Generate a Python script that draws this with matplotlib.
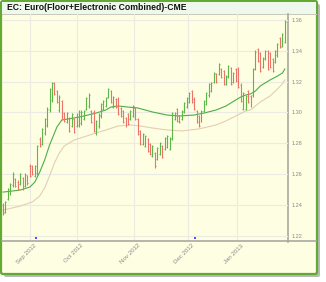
import matplotlib
matplotlib.use("Agg")
import matplotlib.pyplot as plt
import matplotlib.transforms as mtransforms
from matplotlib.patches import FancyBboxPatch, Rectangle
import numpy as np

plt.rcParams['font.family'] = ['Liberation Sans', 'DejaVu Sans']

title = "EC: Euro(Floor+Electronic Combined)-CME"

# daily bars, one per trading day, mid Aug 2012 .. end of Jan 2013
opens = [1.2400, 1.2352, 1.2440, 1.2490, 1.2530, 1.2570, 1.2550, 1.2535, 1.2575, 1.2525,
         1.2590, 1.2655, 1.2650, 1.2590, 1.2610, 1.2830, 1.2795, 1.2865, 1.2920, 1.3015,
         1.3080, 1.3190, 1.3140, 1.3015, 1.3075, 1.2995, 1.2940, 1.2965, 1.2915, 1.2955,
         1.2915, 1.2920, 1.2930, 1.2960, 1.3020, 1.3040, 1.3010, 1.3005, 1.2865, 1.2910,
         1.2975, 1.3025, 1.3040, 1.3100, 1.3140, 1.3035, 1.3090, 1.3090, 1.3030, 1.3010,
         1.2965, 1.2990, 1.2955, 1.2975, 1.3030, 1.2955, 1.2880, 1.2795, 1.2785, 1.2830,
         1.2795, 1.2720, 1.2735, 1.2700, 1.2730, 1.2780, 1.2765, 1.2775, 1.2765, 1.2830,
         1.2960, 1.3020, 1.2975, 1.2955, 1.3005, 1.3035, 1.3070, 1.3140, 1.3090, 1.3010,
         1.2975, 1.2945, 1.3010, 1.3055, 1.3110, 1.3140, 1.3195, 1.3250, 1.3250, 1.3280,
         1.3270, 1.3185, 1.3230, 1.3290, 1.3195, 1.3280, 1.3285, 1.3180, 1.3025, 1.3025,
         1.3140, 1.3105, 1.3110, 1.3285, 1.3410, 1.3385, 1.3295, 1.3345, 1.3400, 1.3385,
         1.3345, 1.3330, 1.3370, 1.3480, 1.3430, 1.3460]
highs = [1.2412, 1.2425, 1.2510, 1.2542, 1.2613, 1.2575, 1.2562, 1.2607, 1.2581, 1.2607,
         1.2594, 1.2665, 1.2659, 1.2659, 1.2789, 1.2841, 1.2899, 1.2964, 1.3035, 1.3159,
         1.3198, 1.3198, 1.3146, 1.3113, 1.3081, 1.3003, 1.3003, 1.2970, 1.2996, 1.2964,
         1.2996, 1.3016, 1.3016, 1.3016, 1.3100, 1.3126, 1.3016, 1.3016, 1.2951, 1.2996,
         1.3061, 1.3081, 1.3100, 1.3159, 1.3146, 1.3107, 1.3094, 1.3100, 1.3035, 1.3016,
         1.2970, 1.2996, 1.3016, 1.3048, 1.3035, 1.2964, 1.2886, 1.2867, 1.2854, 1.2834,
         1.2802, 1.2789, 1.2743, 1.2776, 1.2808, 1.2789, 1.2841, 1.2854, 1.2841, 1.3003,
         1.3003, 1.3029, 1.2983, 1.3016, 1.3068, 1.3100, 1.3133, 1.3146, 1.3100, 1.3016,
         1.2983, 1.3016, 1.3081, 1.3133, 1.3191, 1.3198, 1.3263, 1.3256, 1.3321, 1.3288,
         1.3275, 1.3243, 1.3308, 1.3295, 1.3263, 1.3288, 1.3295, 1.3191, 1.3133, 1.3113,
         1.3146, 1.3113, 1.3288, 1.3405, 1.3418, 1.3392, 1.3360, 1.3405, 1.3405, 1.3392,
         1.3353, 1.3405, 1.3451, 1.3490, 1.3516, 1.3600]
lows = [1.2334, 1.2347, 1.2432, 1.2464, 1.2516, 1.2516, 1.2497, 1.2529, 1.2497, 1.2516,
        1.2529, 1.2581, 1.2594, 1.2581, 1.2594, 1.2776, 1.2789, 1.2854, 1.2906, 1.3003,
        1.3068, 1.3113, 1.3061, 1.3003, 1.2951, 1.2938, 1.2932, 1.2873, 1.2906, 1.2867,
        1.2906, 1.2906, 1.2919, 1.2951, 1.3016, 1.3029, 1.2932, 1.2873, 1.2854, 1.2899,
        1.2964, 1.3016, 1.3035, 1.3094, 1.3061, 1.3029, 1.3029, 1.2983, 1.2970, 1.2932,
        1.2906, 1.2919, 1.2951, 1.2970, 1.2951, 1.2854, 1.2789, 1.2789, 1.2776, 1.2743,
        1.2724, 1.2711, 1.2640, 1.2691, 1.2724, 1.2704, 1.2756, 1.2769, 1.2756, 1.2821,
        1.2951, 1.2938, 1.2932, 1.2951, 1.2996, 1.3029, 1.3061, 1.3061, 1.3016, 1.2932,
        1.2906, 1.2938, 1.3003, 1.3048, 1.3100, 1.3133, 1.3191, 1.3191, 1.3243, 1.3224,
        1.3178, 1.3178, 1.3224, 1.3178, 1.3191, 1.3198, 1.3159, 1.3068, 1.3016, 1.3016,
        1.3061, 1.3035, 1.3100, 1.3275, 1.3327, 1.3263, 1.3288, 1.3340, 1.3275, 1.3288,
        1.3263, 1.3321, 1.3360, 1.3418, 1.3425, 1.3451]
closes = [1.2345, 1.2418, 1.2500, 1.2535, 1.2600, 1.2525, 1.2505, 1.2598, 1.2510, 1.2595,
          1.2540, 1.2590, 1.2600, 1.2650, 1.2780, 1.2785, 1.2890, 1.2955, 1.3025, 1.3150,
          1.3190, 1.3120, 1.3070, 1.3100, 1.2960, 1.2945, 1.2995, 1.2880, 1.2990, 1.2875,
          1.2985, 1.3005, 1.3005, 1.3010, 1.3095, 1.3115, 1.2940, 1.2880, 1.2945, 1.2985,
          1.3055, 1.3075, 1.3095, 1.3150, 1.3070, 1.3100, 1.3035, 1.2990, 1.2975, 1.2940,
          1.2910, 1.2925, 1.3010, 1.3040, 1.2960, 1.2860, 1.2795, 1.2860, 1.2845, 1.2750,
          1.2730, 1.2780, 1.2650, 1.2770, 1.2800, 1.2710, 1.2835, 1.2845, 1.2835, 1.2995,
          1.2995, 1.2945, 1.2940, 1.3010, 1.3060, 1.3095, 1.3125, 1.3070, 1.3025, 1.2940,
          1.2915, 1.3010, 1.3075, 1.3125, 1.3185, 1.3190, 1.3255, 1.3200, 1.3315, 1.3230,
          1.3185, 1.3235, 1.3300, 1.3185, 1.3255, 1.3205, 1.3165, 1.3075, 1.3125, 1.3105,
          1.3070, 1.3045, 1.3280, 1.3395, 1.3335, 1.3270, 1.3355, 1.3400, 1.3285, 1.3295,
          1.3270, 1.3400, 1.3445, 1.3425, 1.3510, 1.3590]

# moving averages (bar index, value)
ma_fast_idx = [0, 7, 11, 13, 15, 17, 19, 22, 24, 29, 33, 38, 42, 44, 47, 51, 55, 58, 61,
               67, 72, 78, 82, 87, 91, 95, 97, 99, 101, 103, 105, 109, 112, 114, 115]
ma_fast_val = [1.2483, 1.2496, 1.2516, 1.2548, 1.2613, 1.2691, 1.2788, 1.2905, 1.2951,
               1.2964, 1.2977, 1.2996, 1.3016, 1.3035, 1.3042, 1.3035, 1.3029, 1.3016,
               1.3003, 1.2983, 1.2977, 1.2983, 1.2996, 1.3016, 1.3042, 1.3081, 1.3100,
               1.3113, 1.3120, 1.3139, 1.3172, 1.3211, 1.3236, 1.3256, 1.3282]
ma_slow_idx = [0, 7, 12, 15, 17, 19, 21, 23, 25, 29, 33, 38, 42, 47, 52, 56, 61, 67, 73,
               80, 87, 91, 95, 99, 101, 105, 109, 112, 114, 115]
ma_slow_val = [1.2366, 1.2392, 1.2419, 1.2458, 1.2510, 1.2588, 1.2672, 1.2737, 1.2782,
               1.2821, 1.2841, 1.2867, 1.2886, 1.2912, 1.2919, 1.2912, 1.2899, 1.2886,
               1.2880, 1.2893, 1.2919, 1.2945, 1.2977, 1.3009, 1.3016, 1.3068, 1.3107,
               1.3152, 1.3185, 1.3211]

month_pos = [11, 30.2, 53.4, 75.5, 95.5]
month_labels = ["Sep 2012", "Oct 2012", "Nov 2012", "Dec 2012", "Jan 2013"]
yticks = [1.22, 1.24, 1.26, 1.28, 1.30, 1.32, 1.34, 1.36]
event_idx = [13.5, 78.4]

W, H = 326, 282
fig = plt.figure(figsize=(W / 100, H / 100), dpi=100)

# frame, shadow and title bar drawn in pixel coords
bg = fig.add_axes([0, 0, 1, 1], zorder=0)
bg.set_xlim(0, W)
bg.set_ylim(H, 0)
bg.axis('off')
bg.add_patch(FancyBboxPatch((4, 4), 316, 273, boxstyle="round,pad=0,rounding_size=2",
                            fc="#b9b9b9", ec="none"))
bg.add_patch(FancyBboxPatch((1, 1), 316, 273, boxstyle="round,pad=0,rounding_size=2",
                            fc="#fefee2", ec="#62aa34", lw=1.6))
bg.add_patch(Rectangle((2, 2), 314, 11.5, fc="#eef8ec", ec="none"))
bg.plot([2, 316], [14, 14], color="#c8c8b8", lw=0.7)
bg.text(7, 8, title, fontsize=6.2, fontweight="bold", va="center", ha="left", color="#111111")
bg.plot([2, 316], [240.5, 240.5], color="#a8a8a0", lw=1.2)
bg.plot([288, 288], [14, 242], color="#a8a8a0", lw=1.2)

ax = fig.add_axes([2 / W, 1 - 240 / H, 286 / W, 226 / H], zorder=1)
ax.set_facecolor("none")
for s in ax.spines.values():
    s.set_visible(False)

x = np.arange(len(closes))
o = np.array(opens)
c = np.array(closes)
cols = np.where(c >= o, "#5cb648", "#ea7468")

ax.plot(ma_slow_idx, ma_slow_val, color="#e2cfb4", lw=0.8, zorder=2)
ax.plot(ma_fast_idx, ma_fast_val, color="#4cae48", lw=0.8, zorder=2)
ax.vlines(x, lows, highs, colors=cols, lw=0.8, zorder=3)
ax.hlines(o, x - 0.4, x, colors=cols, lw=0.6, zorder=3)
ax.hlines(c, x, x + 0.4, colors=cols, lw=0.6, zorder=3)

ax.scatter(event_idx, [1.2187] * len(event_idx), s=0.7, marker="s", color="#5050ff",
           linewidths=0, zorder=4)

ax.set_xlim(-0.4, 116.3)
ax.set_ylim(1.2172, 1.3639)

ax.set_xticks(month_pos)
ax.set_xticklabels([])
ax.yaxis.tick_right()
ax.set_yticks(yticks)
ax.set_yticklabels(["%.2f" % v for v in yticks])
ax.tick_params(axis="both", length=0, labelsize=4, labelcolor="#8a8a8a", pad=2.5)
ax.grid(True, color="#ebebe3", lw=0.8)
ax.set_axisbelow(True)

trans = ax.get_xaxis_transform() + mtransforms.ScaledTranslation(4 / 100, -3 / 100, fig.dpi_scale_trans)
for p, lab in zip(month_pos, month_labels):
    ax.text(p, 0, lab, transform=trans, rotation=45, ha="right", va="top",
            rotation_mode="anchor", fontsize=4.4, color="#8a8a8a")

fig.savefig("out.png", dpi=100)
